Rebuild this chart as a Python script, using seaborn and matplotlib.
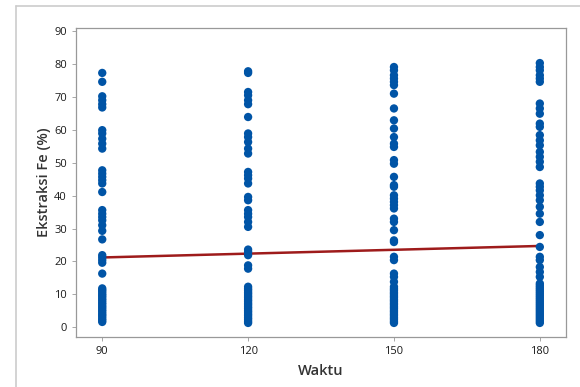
import pandas as pd
import seaborn as sns
import matplotlib.pyplot as plt
from matplotlib.lines import Line2D

# values
y_90 = [77.3, 74.6, 70.2, 69.0, 67.8, 66.8, 59.9, 58.9, 57.3, 55.8, 54.3,
        47.7, 46.7, 45.7, 44.7, 43.7, 41.1, 35.6, 34.5, 33.5, 32.5, 31.0,
        29.3, 26.7, 21.9, 21.2, 20.4, 19.6, 16.3,
        11.8, 11.3, 10.8, 10.2, 9.7, 9.2, 8.6, 8.1, 7.5, 7.0, 6.4, 5.9,
        5.3, 4.8, 4.2, 3.7, 3.2, 2.6, 2.1, 1.6]
y_120 = [77.8, 77.3, 71.5, 70.5, 69.0, 67.8, 63.9, 58.9, 57.8, 56.3, 54.3,
         52.8, 47.2, 46.2, 45.2, 43.7, 39.6, 38.6, 35.6, 34.5, 33.5, 32.0,
         30.5, 23.6, 22.9, 21.9, 18.8, 17.8,
         12.3, 11.7, 11.2, 10.6, 10.1, 9.5, 9.0, 8.4, 7.9, 7.3, 6.8, 6.2,
         5.7, 5.1, 4.6, 4.0, 3.5, 2.9, 2.4, 1.8, 1.3]
y_150 = [79.1, 78.1, 76.6, 75.6, 74.6, 73.6, 71.0, 66.5, 62.9, 60.4, 57.8,
         55.8, 54.8, 50.8, 49.7, 45.7, 43.2, 42.7, 40.1, 39.1, 38.1, 37.1,
         36.1, 33.0, 32.0, 29.5, 26.4, 25.9, 21.4, 20.4, 16.3, 15.3, 13.8,
         12.3, 11.7, 11.2, 10.6, 10.1, 9.5, 9.0, 8.4, 7.9, 7.3, 6.8, 6.2,
         5.7, 5.1, 4.6, 4.0, 3.5, 2.9, 2.4, 1.8, 1.3]
y_180 = [80.3, 79.1, 78.1, 76.6, 75.6, 74.6, 68.0, 66.5, 64.9, 61.9, 60.9,
         58.4, 56.8, 55.3, 53.3, 51.8, 50.3, 48.7, 43.7, 42.7, 41.6, 40.1,
         38.6, 36.6, 34.5, 32.0, 28.0, 24.4, 21.4, 20.4, 18.3, 16.8, 15.3,
         13.3, 12.7, 12.1, 11.5, 10.9, 10.3, 9.7, 9.1, 8.5, 7.9, 7.3, 6.7,
         6.1, 5.5, 4.9, 4.3, 3.7, 3.1, 2.5, 1.9, 1.3]
waktu = [90, 120, 150, 180]

# fitted line (end points)
fit_x = [90, 180]
fit_y = [21.2, 24.7]

df = pd.concat([
    pd.DataFrame({"Waktu": w, "Ekstraksi": ys})
    for w, ys in zip(waktu, [y_90, y_120, y_150, y_180])
])
fit = pd.DataFrame({"Waktu": fit_x, "Ekstraksi": fit_y})

sns.set_style("white")
plt.rcParams["font.family"] = ["Open Sans", "DejaVu Sans"]

fig = plt.figure(figsize=(5.8, 3.87), dpi=100)
ax = fig.add_axes([0.131, 0.129, 0.845, 0.799])

sns.scatterplot(data=df, x="Waktu", y="Ekstraksi", ax=ax, color="#0054A6",
                s=36, edgecolor="none", zorder=3)
sns.lineplot(data=fit, x="Waktu", y="Ekstraksi", ax=ax, color="#9E1B1B",
             linewidth=1.8, zorder=2)

ax.set_xlim(84.6, 185.4)
ax.set_ylim(-3, 91)
ax.set_xticks(waktu)
ax.set_yticks(range(0, 91, 10))
ax.tick_params(axis="both", labelsize=8, labelcolor="#1a1a1a", length=3,
               width=0.6, direction="out", left=True, bottom=True,
               color="#999999")
for sp in ax.spines.values():
    sp.set_color("#999999")
    sp.set_linewidth(0.9)

ax.set_xlabel("Waktu", fontsize=10.5, fontweight="semibold", color="#333333",
              labelpad=5)
ax.set_ylabel("Ekstraksi Fe (%)", fontsize=10.5, fontweight="semibold",
              color="#333333", labelpad=2)

# light frame of the surrounding panel
fig.add_artist(Line2D([16 / 580, 16 / 580], [0, 1 - 6 / 387],
                      color="#cccccc", linewidth=1.2))
fig.add_artist(Line2D([16 / 580, 1], [1 - 6 / 387, 1 - 6 / 387],
                      color="#cccccc", linewidth=1.2))

fig.savefig("out.png", dpi=100)
plt.close(fig)
